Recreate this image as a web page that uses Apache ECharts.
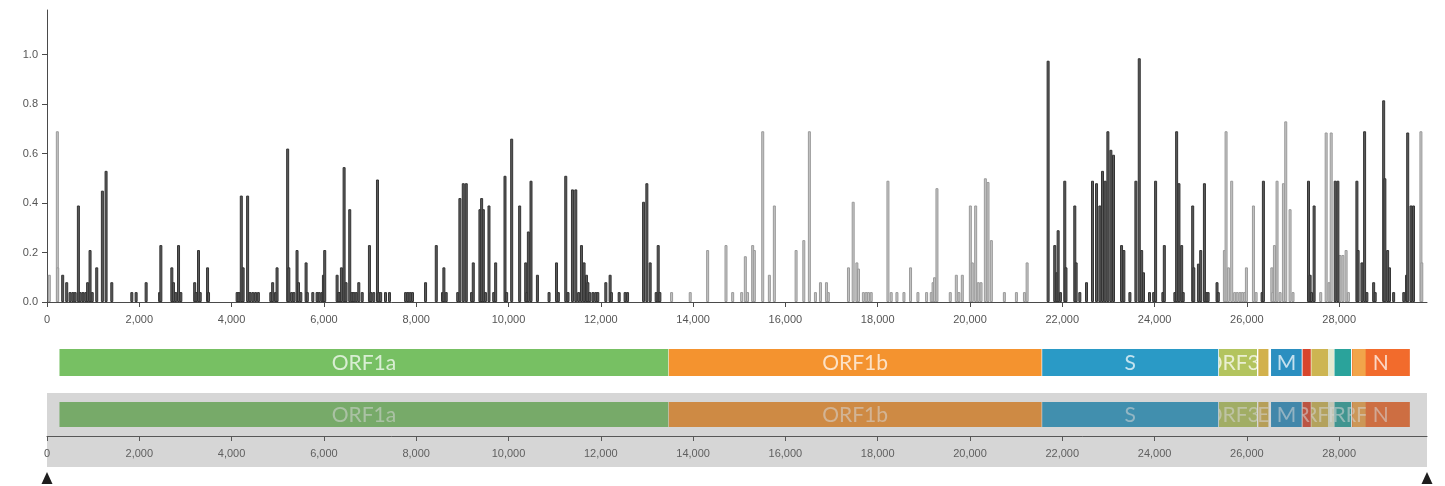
<!DOCTYPE html>
<html>
<head>
<meta charset="utf-8">
<script src="https://cdn.jsdelivr.net/npm/echarts@6/dist/echarts.min.js"></script>
<style>
  html, body { margin: 0; padding: 0; background: #fff; }
  #chart { width: 1445px; height: 486px; }
</style>
</head>
<body>
<div id="chart"></div>
<script>
// Genome extent and axis ticks
const GENOME_LENGTH = 29903;
const X_TICK_STEP = 2000;
const Y_TICK_STEP = 0.2;
const Y_MAX = 1.18;

// Variant frequency by genome position: sites drawn in dark grey
const darkSites = [
  [340,0.11],[427,0.08],[500,0.04],[560,0.04],[610,0.04],[680,0.39],[720,0.04],[780,0.04],[840,0.04],[880,0.08],
  [933,0.21],[980,0.04],[1078,0.14],[1200,0.45],[1280,0.53],[1404,0.08],
  [1838,0.04],[1931,0.04],[2148,0.08],[2440,0.04],[2467,0.23],[2705,0.14],[2740,0.08],[2790,0.04],[2850,0.23],[2900,0.04],
  [3200,0.08],[3230,0.04],[3283,0.21],[3320,0.04],[3479,0.14],[3500,0.04],
  [4120,0.04],[4160,0.04],[4210,0.43],[4250,0.14],[4347,0.43],[4400,0.04],[4460,0.04],[4520,0.04],[4580,0.04],
  [4850,0.04],[4890,0.08],[4950,0.04],[4985,0.14],
  [5215,0.62],[5240,0.14],[5300,0.04],[5350,0.04],[5418,0.21],[5450,0.08],[5500,0.04],[5614,0.16],[5640,0.04],[5760,0.04],[5852,0.04],
  [5900,0.04],[5960,0.04],[5990,0.11],[6018,0.21],
  [6286,0.11],[6320,0.04],[6350,0.04],[6380,0.14],[6438,0.545],[6480,0.08],[6560,0.375],[6610,0.04],[6650,0.04],[6700,0.04],
  [6756,0.08],[6830,0.04],[6987,0.23],[7020,0.04],[7080,0.04],[7161,0.495],[7190,0.04],[7230,0.04],[7335,0.04],[7421,0.04],
  [7770,0.04],[7820,0.04],[7870,0.04],[7920,0.04],
  [8203,0.08],[8435,0.23],[8570,0.04],[8600,0.14],[8650,0.04],
  [8900,0.04],[8947,0.42],[9020,0.48],[9085,0.48],[9200,0.04],[9237,0.16],[9381,0.375],[9418,0.42],[9455,0.375],[9500,0.04],
  [9577,0.39],[9680,0.04],[9722,0.16],
  [9924,0.51],[9960,0.04],[10069,0.66],[10242,0.39],[10373,0.16],[10400,0.04],[10431,0.285],[10488,0.49],[10627,0.11],
  [10879,0.04],[11040,0.16],[11080,0.04],[11241,0.51],[11290,0.04],[11386,0.455],[11458,0.455],[11520,0.04],[11581,0.23],
  [11638,0.16],[11690,0.11],[11720,0.08],[11760,0.04],
  [11830,0.04],[11890,0.04],[11935,0.04],[12109,0.08],[12202,0.11],[12230,0.04],[12398,0.04],[12527,0.04],[12580,0.04],
  [12927,0.405],[12998,0.48],[13070,0.16],[13200,0.04],[13244,0.23],[13280,0.04],
  [21693,0.975],[21837,0.23],[21880,0.12],[21910,0.29],[21960,0.04],[22054,0.49],[22080,0.14],[22271,0.39],[22300,0.16],
  [22380,0.04],[22525,0.08],[22655,0.49],[22742,0.48],[22814,0.39],[22872,0.53],[22930,0.49],[22988,0.69],[23053,0.615],
  [23110,0.595],[23284,0.23],[23334,0.21],[23465,0.04],[23595,0.49],[23668,0.985],[23720,0.21],[23760,0.12],
  [23890,0.04],[23980,0.04],[24022,0.49],[24180,0.04],[24211,0.23],[24440,0.04],[24478,0.69],[24528,0.48],[24587,0.23],
  [24620,0.04],[24826,0.39],[24850,0.14],[24950,0.155],[25000,0.21],[25080,0.48],[25120,0.04],[25160,0.04],[25353,0.08],[25380,0.04],
  [26330,0.04],[26358,0.49],
  [27335,0.49],[27370,0.11],[27400,0.04],[27457,0.39],
  [27914,0.49],[27972,0.49],
  [28384,0.49],[28410,0.21],[28493,0.16],[28551,0.69],[28600,0.04],[28747,0.08],[28780,0.04],[28964,0.815],[28990,0.5],
  [29050,0.21],[29090,0.14],[29180,0.04],[29400,0.04],[29460,0.11],[29485,0.685],[29556,0.39],[29610,0.39]
];

// Variant frequency by genome position: sites drawn in light grey
const lightSites = [
  [50,0.11],[224,0.69],[232,0.14],
  [13534,0.04],[13938,0.04],[14315,0.21],[14713,0.23],[14858,0.04],[15053,0.04],[15132,0.185],[15180,0.04],[15291,0.23],
  [15327,0.21],[15509,0.69],[15653,0.11],[15761,0.39],[16232,0.21],[16399,0.25],[16520,0.69],[16651,0.04],[16760,0.08],
  [16890,0.08],[16930,0.04],
  [17367,0.14],[17469,0.405],[17549,0.16],[17584,0.135],[17690,0.04],[17750,0.04],[17800,0.04],[17860,0.04],
  [18222,0.49],[18293,0.04],[18417,0.04],[18569,0.04],[18712,0.14],[18872,0.04],[19060,0.04],[19161,0.04],[19200,0.08],
  [19233,0.1],[19284,0.46],
  [19573,0.04],[19704,0.11],[19760,0.04],[19834,0.11],[20008,0.39],[20050,0.16],[20123,0.39],[20180,0.08],[20240,0.08],
  [20333,0.5],[20391,0.485],[20463,0.25],
  [20745,0.04],[21006,0.04],[21180,0.04],[21238,0.16],
  [25513,0.21],[25549,0.69],[25600,0.14],[25671,0.49],[25735,0.04],[25790,0.04],[25850,0.04],[25900,0.04],[25952,0.04],
  [25990,0.14],[26142,0.39],[26200,0.04],
  [26540,0.14],[26560,0.04],[26597,0.23],[26654,0.49],[26720,0.04],[26792,0.48],[26842,0.73],[26936,0.375],[27000,0.04],
  [27600,0.04],[27718,0.685],[27780,0.08],[27827,0.685],
  [28017,0.19],[28080,0.19],[28150,0.21],[28200,0.04],
  [29771,0.69],[29790,0.16]
];

// Gene annotation (drawn in this order; ORF9b sits on top of N)
const geneNames  = ['ORF1a','ORF1b','S','ORF3a','E','M','ORF6','ORF7a','ORF7b','ORF8','N','ORF9b'];
const geneStarts = [266, 13468, 21563, 25393, 26245, 26523, 27202, 27394, 27756, 27894, 28274, 28284];
const geneEnds   = [13468, 21555, 25384, 26220, 26472, 27191, 27387, 27759, 27887, 28259, 29533, 28577];
const geneColors = ['#77c063','#f4932f','#2a9ac6','#b3c45e','#d2b14c','#2b8fc0','#d8462c','#cdb552','#e6ead2','#2aa39b','#f26b2c','#f1a54a'];

// Selected window of the overview strip
const brushExtent = [0, GENOME_LENGTH];

const AXIS_FONT = 'Liberation Sans';
const geneData = geneNames.map((n, i) => [geneStarts[i], geneEnds[i]]);

function thousands(v) {
  return Math.round(v).toString().replace(/\B(?=(\d{3})+(?!\d))/g, ',');
}

// Gene boxes with their names clipped to each box
function makeGeneRenderer(opts) {
  return function (params, api) {
    const i = params.dataIndex;
    const x0 = api.coord([api.value(0), 0])[0];
    const x1 = api.coord([api.value(1), 0])[0];
    const cs = params.coordSys;
    const y = cs.y + opts.offsetY;
    const h = opts.height;
    const w = x1 - x0;
    const children = [{
      type: 'rect',
      shape: { x: x0, y: y, width: w, height: h },
      style: { fill: geneColors[i] }
    }];
    if (w >= opts.minLabelWidth) {
      children.push({
        type: 'text',
        style: {
          text: geneNames[i],
          x: (x0 + x1) / 2, y: y + h / 2 + 1,
          align: 'center', verticalAlign: 'middle',
          fill: opts.textColor,
          font: '21px Lato'
        }
      });
    }
    return {
      type: 'group',
      children: children,
      clipPath: { type: 'rect', shape: { x: x0, y: y, width: w, height: h } }
    };
  };
}

// Shaded selection over the overview strip, with its two handles
function overviewOverlay(params, api) {
  const x0 = api.coord([api.value(0), 0])[0];
  const x1 = api.coord([api.value(1), 0])[0];
  const cs = params.coordSys;
  const ty = cs.y + cs.height + 36;
  const tri = (cx) => ({
    type: 'polygon',
    shape: { points: [[cx, ty], [cx - 5.5, ty + 12], [cx + 5.5, ty + 12]] },
    style: { fill: '#1e1e1e' }
  });
  return {
    type: 'group',
    children: [
      { type: 'rect', shape: { x: x0, y: cs.y, width: x1 - x0, height: cs.height + 31 },
        style: { fill: 'rgba(119,119,119,0.3)' } },
      tri(x0), tri(x1)
    ]
  };
}

const axisStyle = {
  axisLine: { show: true, lineStyle: { color: '#4a4a4a', width: 1 } },
  axisTick: { show: true, length: 5, lineStyle: { color: '#4a4a4a' } },
  splitLine: { show: false }
};

const chart = echarts.init(document.getElementById('chart'), null, { renderer: 'canvas' });
chart.setOption({
  animation: false,
  backgroundColor: '#ffffff',
  grid: [
    { left: 47, right: 18, top: 10, height: 292 },
    { left: 47, right: 18, top: 349, height: 27 },
    { left: 47, right: 18, top: 393, height: 43 }
  ],
  xAxis: [
    Object.assign({
      gridIndex: 0, type: 'value', min: 0, max: GENOME_LENGTH, interval: X_TICK_STEP,
      axisLabel: { showMaxLabel: false, formatter: thousands, color: '#555', fontSize: 11,
                   fontFamily: AXIS_FONT, margin: 12 }
    }, axisStyle),
    { gridIndex: 1, type: 'value', min: 0, max: GENOME_LENGTH, show: false },
    Object.assign({
      gridIndex: 2, type: 'value', min: 0, max: GENOME_LENGTH, interval: X_TICK_STEP,
      axisLabel: { showMaxLabel: false, formatter: thousands, color: '#555', fontSize: 11,
                   fontFamily: AXIS_FONT, margin: 12 }
    }, axisStyle)
  ],
  yAxis: [
    Object.assign({
      gridIndex: 0, type: 'value', min: 0, max: Y_MAX, interval: Y_TICK_STEP,
      axisLabel: { showMaxLabel: false, formatter: (v) => v.toFixed(1), color: '#555', fontSize: 11,
                   fontFamily: AXIS_FONT, margin: 9 }
    }, axisStyle),
    { gridIndex: 1, type: 'value', min: 0, max: 1, show: false },
    { gridIndex: 2, type: 'value', min: 0, max: 1, show: false }
  ],
  series: [
    {
      type: 'bar', name: 'light', xAxisIndex: 0, yAxisIndex: 0, data: lightSites,
      barWidth: 3, barGap: '-100%', silent: true,
      itemStyle: { color: '#c4c4c4', borderColor: '#9a9a9a', borderWidth: 1 }
    },
    {
      type: 'bar', name: 'dark', xAxisIndex: 0, yAxisIndex: 0, data: darkSites,
      barWidth: 3, barGap: '-100%', silent: true,
      itemStyle: { color: '#5c5c5c', borderColor: '#333', borderWidth: 1 }
    },
    {
      type: 'custom', name: 'genes', xAxisIndex: 1, yAxisIndex: 1, data: geneData, silent: true,
      renderItem: makeGeneRenderer({ offsetY: 0, height: 27, minLabelWidth: 25, textColor: 'rgba(255,255,255,0.72)' })
    },
    {
      type: 'custom', name: 'genes-overview', xAxisIndex: 2, yAxisIndex: 2, data: geneData, silent: true,
      renderItem: makeGeneRenderer({ offsetY: 9, height: 25, minLabelWidth: 0, textColor: 'rgba(255,255,255,0.55)' })
    },
    {
      type: 'custom', name: 'selection', xAxisIndex: 2, yAxisIndex: 2, data: [brushExtent], silent: true,
      z: 10, renderItem: overviewOverlay
    }
  ]
});
</script>
</body>
</html>
